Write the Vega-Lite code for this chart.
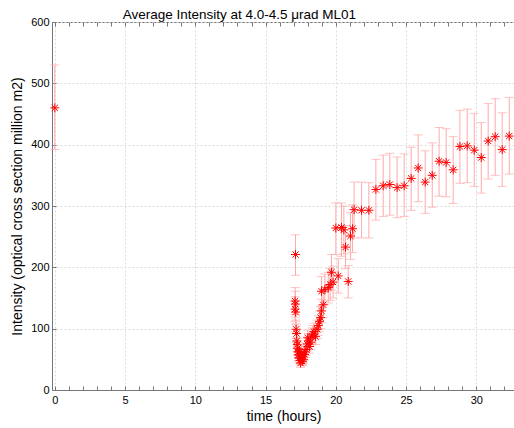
{
  "$schema": "https://vega.github.io/schema/vega-lite/v6.json",
  "autosize": "none",
  "width": 463,
  "height": 368,
  "padding": {"left": 52, "top": 22, "right": 0, "bottom": 38},
  "background": "white",
  "title": {"text": "Average Intensity at 4.0-4.5 μrad ML01", "anchor": "start", "dx": 112, "offset": -5, "fontSize": 13.5, "fontWeight": "normal", "font": "Liberation Sans", "color": "black"},
  "config": {
    "font": "Liberation Sans",
    "view": {"stroke": "#777", "strokeWidth": 1},
    "axis": {"domainColor": "#777", "tickColor": "#777", "labelColor": "black", "titleColor": "black", "labelFont": "Liberation Sans", "titleFont": "Liberation Sans", "titleFontWeight": "normal", "gridColor": "#dcdcdc", "gridDash": [2, 2], "labelFontSize": 11, "titleFontSize": 14}
  },
  "data": {"values": [
    {"t": 0.0, "y": 460, "lo": 392, "hi": 530},
    {"t": 17.13, "y": 221, "lo": 187, "hi": 253},
    {"t": 17.10, "y": 145, "lo": 123, "hi": 167},
    {"t": 17.12, "y": 140, "lo": 119, "hi": 161},
    {"t": 17.10, "y": 132, "lo": 112, "hi": 152},
    {"t": 17.14, "y": 127, "lo": 108, "hi": 146},
    {"t": 17.17, "y": 99, "lo": 84, "hi": 114},
    {"t": 17.20, "y": 92, "lo": 78, "hi": 106},
    {"t": 17.22, "y": 80, "lo": 68, "hi": 92},
    {"t": 17.25, "y": 74, "lo": 63, "hi": 85},
    {"t": 17.28, "y": 68, "lo": 58, "hi": 78},
    {"t": 17.30, "y": 62, "lo": 53, "hi": 71},
    {"t": 17.33, "y": 57, "lo": 48, "hi": 66},
    {"t": 17.37, "y": 52, "lo": 44, "hi": 60},
    {"t": 17.41, "y": 63, "lo": 54, "hi": 72},
    {"t": 17.45, "y": 48, "lo": 41, "hi": 55},
    {"t": 17.49, "y": 44, "lo": 37, "hi": 51},
    {"t": 17.53, "y": 52, "lo": 44, "hi": 60},
    {"t": 17.57, "y": 58, "lo": 49, "hi": 67},
    {"t": 17.62, "y": 47, "lo": 40, "hi": 54},
    {"t": 17.65, "y": 55, "lo": 47, "hi": 63},
    {"t": 17.70, "y": 50, "lo": 43, "hi": 58},
    {"t": 17.77, "y": 58, "lo": 49, "hi": 67},
    {"t": 17.82, "y": 62, "lo": 53, "hi": 71},
    {"t": 17.89, "y": 66, "lo": 56, "hi": 76},
    {"t": 17.95, "y": 75, "lo": 64, "hi": 86},
    {"t": 18.00, "y": 85, "lo": 72, "hi": 98},
    {"t": 18.05, "y": 80, "lo": 68, "hi": 92},
    {"t": 18.13, "y": 71, "lo": 60, "hi": 82},
    {"t": 18.20, "y": 78, "lo": 66, "hi": 90},
    {"t": 18.30, "y": 88, "lo": 75, "hi": 101},
    {"t": 18.36, "y": 91, "lo": 77, "hi": 105},
    {"t": 18.45, "y": 95, "lo": 81, "hi": 109},
    {"t": 18.55, "y": 87, "lo": 74, "hi": 100},
    {"t": 18.67, "y": 99, "lo": 84, "hi": 114},
    {"t": 18.75, "y": 105, "lo": 89, "hi": 121},
    {"t": 18.84, "y": 112, "lo": 95, "hi": 129},
    {"t": 18.92, "y": 118, "lo": 100, "hi": 136},
    {"t": 18.98, "y": 129, "lo": 110, "hi": 148},
    {"t": 19.10, "y": 139, "lo": 118, "hi": 160},
    {"t": 18.98, "y": 161, "lo": 137, "hi": 185},
    {"t": 19.22, "y": 164, "lo": 139, "hi": 189},
    {"t": 19.46, "y": 167, "lo": 142, "hi": 192},
    {"t": 19.60, "y": 172, "lo": 146, "hi": 198},
    {"t": 19.69, "y": 192, "lo": 163, "hi": 221},
    {"t": 19.80, "y": 176, "lo": 150, "hi": 202},
    {"t": 20.00, "y": 264, "lo": 221, "hi": 305},
    {"t": 20.17, "y": 186, "lo": 158, "hi": 214},
    {"t": 20.40, "y": 265, "lo": 218, "hi": 305},
    {"t": 20.57, "y": 261, "lo": 222, "hi": 300},
    {"t": 20.69, "y": 233, "lo": 198, "hi": 268},
    {"t": 20.88, "y": 177, "lo": 150, "hi": 203},
    {"t": 21.04, "y": 251, "lo": 213, "hi": 289},
    {"t": 21.19, "y": 263, "lo": 224, "hi": 302},
    {"t": 21.30, "y": 294, "lo": 248, "hi": 339},
    {"t": 21.83, "y": 293, "lo": 248, "hi": 339},
    {"t": 22.35, "y": 293, "lo": 248, "hi": 338},
    {"t": 22.85, "y": 327, "lo": 277, "hi": 376},
    {"t": 23.37, "y": 333, "lo": 283, "hi": 383},
    {"t": 23.84, "y": 335, "lo": 285, "hi": 386},
    {"t": 24.36, "y": 330, "lo": 281, "hi": 380},
    {"t": 24.86, "y": 333, "lo": 283, "hi": 385},
    {"t": 25.36, "y": 345, "lo": 293, "hi": 396},
    {"t": 25.86, "y": 362, "lo": 307, "hi": 416},
    {"t": 26.36, "y": 339, "lo": 288, "hi": 390},
    {"t": 26.86, "y": 350, "lo": 298, "hi": 403},
    {"t": 27.35, "y": 373, "lo": 316, "hi": 428},
    {"t": 27.85, "y": 371, "lo": 315, "hi": 426},
    {"t": 28.35, "y": 359, "lo": 304, "hi": 413},
    {"t": 28.83, "y": 397, "lo": 337, "hi": 456},
    {"t": 29.35, "y": 398, "lo": 338, "hi": 458},
    {"t": 29.85, "y": 391, "lo": 332, "hi": 451},
    {"t": 30.35, "y": 379, "lo": 321, "hi": 436},
    {"t": 30.84, "y": 406, "lo": 344, "hi": 467},
    {"t": 31.34, "y": 413, "lo": 350, "hi": 475},
    {"t": 31.84, "y": 392, "lo": 332, "hi": 452},
    {"t": 32.34, "y": 414, "lo": 352, "hi": 477}
  ]},
  "resolve": {"axis": {"x": "independent"}},
  "layer": [
    {
      "mark": {"type": "rule", "color": "#ffa8a8", "strokeWidth": 1},
      "encoding": {
        "x": {"field": "t", "type": "quantitative", "scale": {"domain": [-0.2, 32.75], "nice": false, "zero": false},
          "axis": {"orient": "bottom", "title": "time (hours)", "values": [0,1,2,3,4,5,6,7,8,9,10,11,12,13,14,15,16,17,18,19,20,21,22,23,24,25,26,27,28,29,30,31,32],
            "labelExpr": "datum.value % 5 === 0 ? datum.label : ''", "tickSize": -4, "labelPadding": 8, "titlePadding": 4,
            "gridOpacity": {"condition": {"test": "datum.value % 5 === 0", "value": 1}, "value": 0}}},
        "y": {"field": "lo", "type": "quantitative", "scale": {"domain": [0, 600], "nice": false},
          "axis": {"title": "Intensity (optical cross section million m2)", "values": [0,100,200,300,400,500,600], "tickSize": -4, "labelPadding": 7, "titlePadding": 6}},
        "y2": {"field": "hi"}
      }
    },
    {
      "mark": {"type": "tick", "orient": "horizontal", "size": 9, "thickness": 1, "color": "#ffa8a8"},
      "encoding": {
        "x": {"field": "t", "type": "quantitative", "axis": null},
        "y": {"field": "lo", "type": "quantitative"}
      }
    },
    {
      "mark": {"type": "tick", "orient": "horizontal", "size": 9, "thickness": 1, "color": "#ffa8a8"},
      "encoding": {
        "x": {"field": "t", "type": "quantitative", "axis": null},
        "y": {"field": "hi", "type": "quantitative"}
      }
    },
    {
      "mark": {"type": "point", "shape": "M-1,0H1M0,-1V1M-0.7,-0.7L0.7,0.7M-0.7,0.7L0.7,-0.7", "filled": false, "color": "#ff0000", "size": 80, "strokeWidth": 1, "opacity": 1},
      "encoding": {
        "x": {"field": "t", "type": "quantitative", "axis": null},
        "y": {"field": "y", "type": "quantitative"}
      }
    },
    {
      "mark": {"type": "point", "opacity": 0},
      "encoding": {
        "x": {"field": "t", "type": "quantitative",
          "axis": {"orient": "top", "title": null, "labels": false, "grid": false, "domain": false, "tickSize": -4, "values": [0,1,2,3,4,5,6,7,8,9,10,11,12,13,14,15,16,17,18,19,20,21,22,23,24,25,26,27,28,29,30,31,32]}},
        "y": {"field": "y", "type": "quantitative"}
      }
    }
  ]
}
